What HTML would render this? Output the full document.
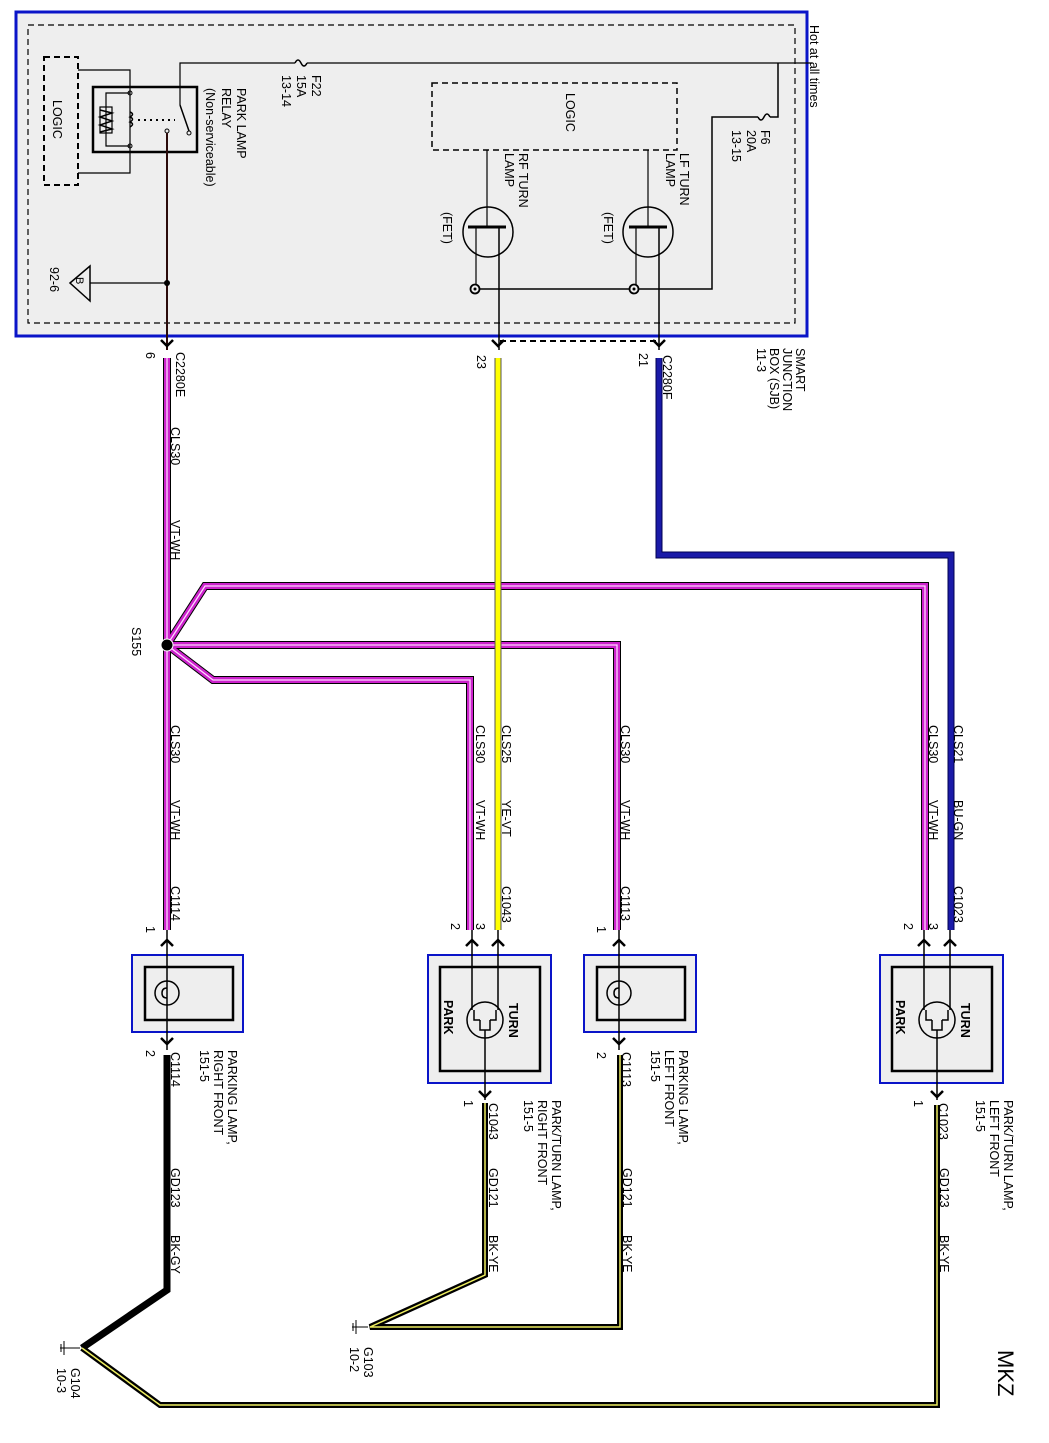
<!DOCTYPE html>
<html><head><meta charset="utf-8"><style>
html,body{margin:0;padding:0;background:#fff;}
svg{display:block;}
text{font-family:"Liberation Sans",Arial,sans-serif;font-size:12.5px;fill:#000;}
</style></head><body>
<svg width="1049" height="1443" viewBox="0 0 1049 1443" xmlns="http://www.w3.org/2000/svg">
<!-- SJB -->
<rect x="16" y="12" width="791" height="324" fill="#eeeeee" stroke="#0a14c8" stroke-width="3"/>
<rect x="28" y="25" width="767" height="298" fill="none" stroke="#000" stroke-width="1.2" stroke-dasharray="6,4"/>
<!-- left logic -->
<rect x="44" y="57" width="34" height="128" fill="none" stroke="#000" stroke-width="2" stroke-dasharray="6,4"/>
<text transform="translate(53,100) rotate(90)">LOGIC</text>
<!-- relay -->
<rect x="93" y="87" width="104" height="65" fill="none" stroke="#000" stroke-width="2.5"/>
<polyline points="78,70 130,70 130,173 78,173" fill="none" stroke="#000" stroke-width="1.2"/>
<polyline points="130,93 106,93 106,146 130,146" fill="none" stroke="#000" stroke-width="1.2"/>
<rect x="100" y="107" width="12" height="26" fill="none" stroke="#000" stroke-width="1.2"/>
<path d="M100,110 L112,113 L100,117 L112,121 L100,125 L112,129 L100,132" fill="none" stroke="#000" stroke-width="1.5"/>
<path d="M130,112 q5,2 0,5 q5,2 0,5 q5,2 0,5" fill="none" stroke="#000" stroke-width="1.5"/>
<line x1="138" y1="120" x2="175" y2="120" stroke="#000" stroke-width="2" stroke-dasharray="2,4"/>
<circle cx="130" cy="93" r="2" fill="none" stroke="#000"/><circle cx="130" cy="146" r="2" fill="none" stroke="#000"/>
<circle cx="167" cy="131" r="2" fill="none" stroke="#000"/><circle cx="189" cy="133" r="2" fill="none" stroke="#000"/>
<line x1="180" y1="105" x2="189" y2="131" stroke="#000" stroke-width="1.5"/>
<polyline points="180,105 180,63 295,63" fill="none" stroke="#000" stroke-width="1.2"/>
<path d="M295,63 q3,-6 6,0 q3,6 6,0" fill="none" stroke="#000" stroke-width="1.5"/>
<line x1="307" y1="63" x2="812" y2="63" stroke="#000" stroke-width="1.2"/>
<line x1="167" y1="133" x2="167" y2="350" stroke="#2a0a0a" stroke-width="2"/>
<circle cx="167" cy="283" r="3" fill="#000"/>
<line x1="90" y1="283" x2="167" y2="283" stroke="#000" stroke-width="1.2"/>
<polygon points="70,283 90,266 90,301" fill="none" stroke="#000" stroke-width="1.5"/>
<text transform="translate(76,277) rotate(90)" style="font-size:11px">B</text>
<text transform="translate(50,267) rotate(90)">92-6</text>
<text transform="translate(237,88) rotate(90)">PARK LAMP</text>
<text transform="translate(222,88) rotate(90)">RELAY</text>
<text transform="translate(206,88) rotate(90)">(Non-serviceable)</text>
<text transform="translate(312,75) rotate(90)">F22</text>
<text transform="translate(297,75) rotate(90)">15A</text>
<text transform="translate(282,75) rotate(90)">13-14</text>
<text transform="translate(810,25) rotate(90)">Hot at all times</text>
<!-- F6 -->
<polyline points="778,63 778,117 770,117" fill="none" stroke="#000" stroke-width="1.5"/>
<path d="M770,117 q-3,-6 -6,0 q-3,6 -6,0" fill="none" stroke="#000" stroke-width="1.5"/>
<polyline points="758,117 712,117 712,289 475,289" fill="none" stroke="#000" stroke-width="1.5"/>
<text transform="translate(761,130) rotate(90)">F6</text>
<text transform="translate(747,130) rotate(90)">20A</text>
<text transform="translate(732,130) rotate(90)">13-15</text>
<!-- middle logic -->
<rect x="432" y="83" width="245" height="67" fill="none" stroke="#000" stroke-width="1.5" stroke-dasharray="6,4"/>
<text transform="translate(566,93) rotate(90)">LOGIC</text>
<!-- FETs -->
<g stroke="#000" fill="none">
<circle cx="488" cy="232" r="25" stroke-width="1.5"/>
<line x1="487" y1="150" x2="487" y2="227" stroke-width="1.2"/>
<line x1="468" y1="227" x2="506" y2="227" stroke-width="3"/>
<line x1="476" y1="227" x2="476" y2="289" stroke-width="1.2"/>
<line x1="499" y1="227" x2="499" y2="350" stroke-width="1.5"/>
<circle cx="648" cy="232" r="25" stroke-width="1.5"/>
<line x1="648" y1="150" x2="648" y2="227" stroke-width="1.2"/>
<line x1="629" y1="227" x2="667" y2="227" stroke-width="3"/>
<line x1="636" y1="227" x2="636" y2="289" stroke-width="1.2"/>
<line x1="659" y1="227" x2="659" y2="350" stroke-width="1.5"/>
<circle cx="475" cy="289" r="4.5" stroke-width="1.8" fill="#eee"/>
<circle cx="634" cy="289" r="4.5" stroke-width="1.8" fill="#eee"/>
</g>
<circle cx="475" cy="289" r="1.5"/><circle cx="634" cy="289" r="1.5"/>
<text transform="translate(443,212) rotate(90)">(FET)</text>
<text transform="translate(604,212) rotate(90)">(FET)</text>
<text transform="translate(519,153) rotate(90)">RF TURN</text>
<text transform="translate(505,153) rotate(90)">LAMP</text>
<text transform="translate(680,153) rotate(90)">LF TURN</text>
<text transform="translate(666,153) rotate(90)">LAMP</text>
<line x1="500" y1="341" x2="659" y2="341" stroke="#000" stroke-width="2" stroke-dasharray="6,4"/>
<text transform="translate(796,348) rotate(90)">SMART</text>
<text transform="translate(783,348) rotate(90)">JUNCTION</text>
<text transform="translate(770,348) rotate(90)">BOX (SJB)</text>
<text transform="translate(757,348) rotate(90)">11-3</text>
<!-- pin arrows SJB -->
<g fill="none" stroke="#000" stroke-width="2.5">
<path d="M161,340 L167,346 L173,340"/><path d="M492,340 L498,346 L504,340"/><path d="M653,340 L659,346 L665,340"/>
</g>
<text transform="translate(176,352) rotate(90)">C2280E</text>
<text transform="translate(146,352) rotate(90)">6</text>
<text transform="translate(477,355) rotate(90)">23</text>
<text transform="translate(639,353) rotate(90)">21</text>
<text transform="translate(663,355) rotate(90)">C2280F</text>

<!-- wires: blue -->
<polyline points="659,358 659,555 951,555 951,930" fill="none" stroke="#000050" stroke-width="7"/>
<polyline points="659,358 659,555 951,555 951,930" fill="none" stroke="#1a1aa8" stroke-width="5"/>
<!-- pink wires -->
<g fill="none" stroke-linejoin="miter">
<g stroke="#000" stroke-width="8">
<polyline points="167,358 167,930"/>
<polyline points="167,645 205,586 925,586 925,930"/>
<polyline points="167,645 617,645 617,930"/>
<polyline points="167,645 213,680 470,680 470,930"/>
</g>
<g stroke="#cc22cc" stroke-width="6">
<polyline points="167,358 167,930"/>
<polyline points="167,645 205,586 925,586 925,930"/>
<polyline points="167,645 617,645 617,930"/>
<polyline points="167,645 213,680 470,680 470,930"/>
</g>
<g stroke="#ffd8ff" stroke-width="1.3">
<polyline points="167,358 167,930"/>
<polyline points="167,645 205,586 925,586 925,930"/>
<polyline points="167,645 617,645 617,930"/>
<polyline points="167,645 213,680 470,680 470,930"/>
</g>
</g>
<!-- yellow -->
<line x1="498" y1="358" x2="498" y2="930" stroke="#555" stroke-width="7"/>
<line x1="498" y1="358" x2="498" y2="930" stroke="#ffff00" stroke-width="5"/>
<circle cx="167" cy="645" r="6" fill="#000" stroke="#fff" stroke-width="1"/>
<text transform="translate(132,627) rotate(90)">S155</text>
<g>
<text transform="translate(171,427) rotate(90)">CLS30</text><text transform="translate(171,520) rotate(90)">VT-WH</text>
<text transform="translate(171,725) rotate(90)">CLS30</text><text transform="translate(171,800) rotate(90)">VT-WH</text>
<text transform="translate(476,725) rotate(90)">CLS30</text><text transform="translate(476,800) rotate(90)">VT-WH</text>
<text transform="translate(502,725) rotate(90)">CLS25</text><text transform="translate(502,800) rotate(90)">YE-VT</text>
<text transform="translate(621,725) rotate(90)">CLS30</text><text transform="translate(621,800) rotate(90)">VT-WH</text>
<text transform="translate(929,725) rotate(90)">CLS30</text><text transform="translate(929,800) rotate(90)">VT-WH</text>
<text transform="translate(954,725) rotate(90)">CLS21</text><text transform="translate(954,800) rotate(90)">BU-GN</text>
<text transform="translate(171,886) rotate(90)">C1114</text><text transform="translate(146,926) rotate(90)">1</text>
<text transform="translate(502,886) rotate(90)">C1043</text><text transform="translate(451,923) rotate(90)">2</text><text transform="translate(476,923) rotate(90)">3</text>
<text transform="translate(621,886) rotate(90)">C1113</text><text transform="translate(597,926) rotate(90)">1</text>
<text transform="translate(954,886) rotate(90)">C1023</text><text transform="translate(904,923) rotate(90)">2</text><text transform="translate(929,923) rotate(90)">3</text>
</g>
<!-- components -->
<g stroke-width="2">
<rect x="132" y="955" width="111" height="77" fill="#eeeeee" stroke="#0a14c8"/>
<rect x="145" y="967" width="88" height="53" fill="none" stroke="#000" stroke-width="2.5"/>
<rect x="428" y="955" width="123" height="128" fill="#eeeeee" stroke="#0a14c8"/>
<rect x="440" y="967" width="100" height="104" fill="none" stroke="#000" stroke-width="2.5"/>
<rect x="584" y="955" width="112" height="77" fill="#eeeeee" stroke="#0a14c8"/>
<rect x="597" y="967" width="88" height="53" fill="none" stroke="#000" stroke-width="2.5"/>
<rect x="880" y="955" width="123" height="128" fill="#eeeeee" stroke="#0a14c8"/>
<rect x="892" y="967" width="100" height="104" fill="none" stroke="#000" stroke-width="2.5"/>
</g>
<g fill="none" stroke="#000" stroke-width="1.5">
<line x1="167" y1="930" x2="167" y2="1050"/>
<circle cx="167" cy="993" r="12"/><path d="M167,988 q-5,0 -5,5 q0,5 5,5"/>
<line x1="619" y1="930" x2="619" y2="1050"/>
<circle cx="619" cy="993" r="12"/><path d="M619,988 q-5,0 -5,5 q0,5 5,5"/>
<line x1="472" y1="930" x2="472" y2="1010"/><line x1="498" y1="930" x2="498" y2="1010"/>
<circle cx="485" cy="1020" r="18"/><path d="M474,1010 v10 h6 M496,1010 v10 h-6 M480,1020 v10 h10 v-10"/>
<line x1="485" y1="1030" x2="485" y2="1100"/>
<line x1="924" y1="930" x2="924" y2="1010"/><line x1="950" y1="930" x2="950" y2="1010"/>
<circle cx="937" cy="1020" r="18"/><path d="M926,1010 v10 h6 M948,1010 v10 h-6 M932,1020 v10 h10 v-10"/>
<line x1="937" y1="1030" x2="937" y2="1100"/>
</g>
<text transform="translate(509,1003) rotate(90)" style="font-weight:bold">TURN</text>
<text transform="translate(444,1000) rotate(90)" style="font-weight:bold">PARK</text>
<text transform="translate(961,1003) rotate(90)" style="font-weight:bold">TURN</text>
<text transform="translate(896,1000) rotate(90)" style="font-weight:bold">PARK</text>
<!-- connector arrows -->
<g fill="none" stroke="#000" stroke-width="2.5">
<path d="M161,946 L167,940 L173,946"/><path d="M466,946 L472,940 L478,946"/><path d="M492,946 L498,940 L504,946"/>
<path d="M613,946 L619,940 L625,946"/><path d="M918,946 L924,940 L930,946"/><path d="M944,946 L950,940 L956,946"/>
<path d="M161,1038 L167,1044 L173,1038"/><path d="M613,1038 L619,1044 L625,1038"/>
<path d="M479,1091 L485,1097 L491,1091"/><path d="M931,1091 L937,1097 L943,1091"/>
</g>
<!-- ground wires -->
<polyline points="167,1055 167,1290 82,1348" fill="none" stroke="#000" stroke-width="7"/>
<g fill="none">
<polyline points="485,1103 485,1275 370,1327 620,1327 620,1055" stroke="#000" stroke-width="6"/>
<polyline points="485,1103 485,1275 370,1327 620,1327 620,1055" stroke="#eeee60" stroke-width="1.5"/>
<polyline points="82,1348 160,1405 937,1405 937,1105" stroke="#000" stroke-width="6"/>
<polyline points="82,1348 160,1405 937,1405 937,1105" stroke="#eeee60" stroke-width="1.5"/>
</g>
<g stroke="#000" stroke-width="1">
<line x1="60" y1="1348" x2="80" y2="1348"/><line x1="64" y1="1341" x2="64" y2="1355"/><line x1="61" y1="1344" x2="61" y2="1352"/>
<line x1="352" y1="1327" x2="368" y2="1327"/><line x1="356" y1="1320" x2="356" y2="1334"/><line x1="353" y1="1323" x2="353" y2="1331"/>
</g>
<text transform="translate(71,1368) rotate(90)">G104</text><text transform="translate(57,1368) rotate(90)">10-3</text>
<text transform="translate(364,1347) rotate(90)">G103</text><text transform="translate(350,1347) rotate(90)">10-2</text>
<!-- bottom labels -->
<text transform="translate(146,1050) rotate(90)">2</text><text transform="translate(171,1052) rotate(90)">C1114</text>
<text transform="translate(228,1050) rotate(90)">PARKING LAMP,</text><text transform="translate(214,1050) rotate(90)">RIGHT FRONT</text><text transform="translate(200,1050) rotate(90)">151-5</text>
<text transform="translate(464,1100) rotate(90)">1</text><text transform="translate(489,1103) rotate(90)">C1043</text>
<text transform="translate(552,1100) rotate(90)">PARK/TURN LAMP,</text><text transform="translate(538,1100) rotate(90)">RIGHT FRONT</text><text transform="translate(524,1100) rotate(90)">151-5</text>
<text transform="translate(597,1052) rotate(90)">2</text><text transform="translate(622,1052) rotate(90)">C1113</text>
<text transform="translate(679,1050) rotate(90)">PARKING LAMP,</text><text transform="translate(665,1050) rotate(90)">LEFT FRONT</text><text transform="translate(651,1050) rotate(90)">151-5</text>
<text transform="translate(914,1100) rotate(90)">1</text><text transform="translate(939,1103) rotate(90)">C1023</text>
<text transform="translate(1004,1100) rotate(90)">PARK/TURN LAMP,</text><text transform="translate(990,1100) rotate(90)">LEFT FRONT</text><text transform="translate(976,1100) rotate(90)">151-5</text>
<text transform="translate(171,1168) rotate(90)">GD123</text><text transform="translate(171,1235) rotate(90)">BK-GY</text>
<text transform="translate(489,1168) rotate(90)">GD121</text><text transform="translate(489,1235) rotate(90)">BK-YE</text>
<text transform="translate(623,1168) rotate(90)">GD121</text><text transform="translate(623,1235) rotate(90)">BK-YE</text>
<text transform="translate(940,1168) rotate(90)">GD123</text><text transform="translate(940,1235) rotate(90)">BK-YE</text>
<text transform="translate(998,1350) rotate(90)" style="font-size:22px">MKZ</text>
</svg>
</body></html>
